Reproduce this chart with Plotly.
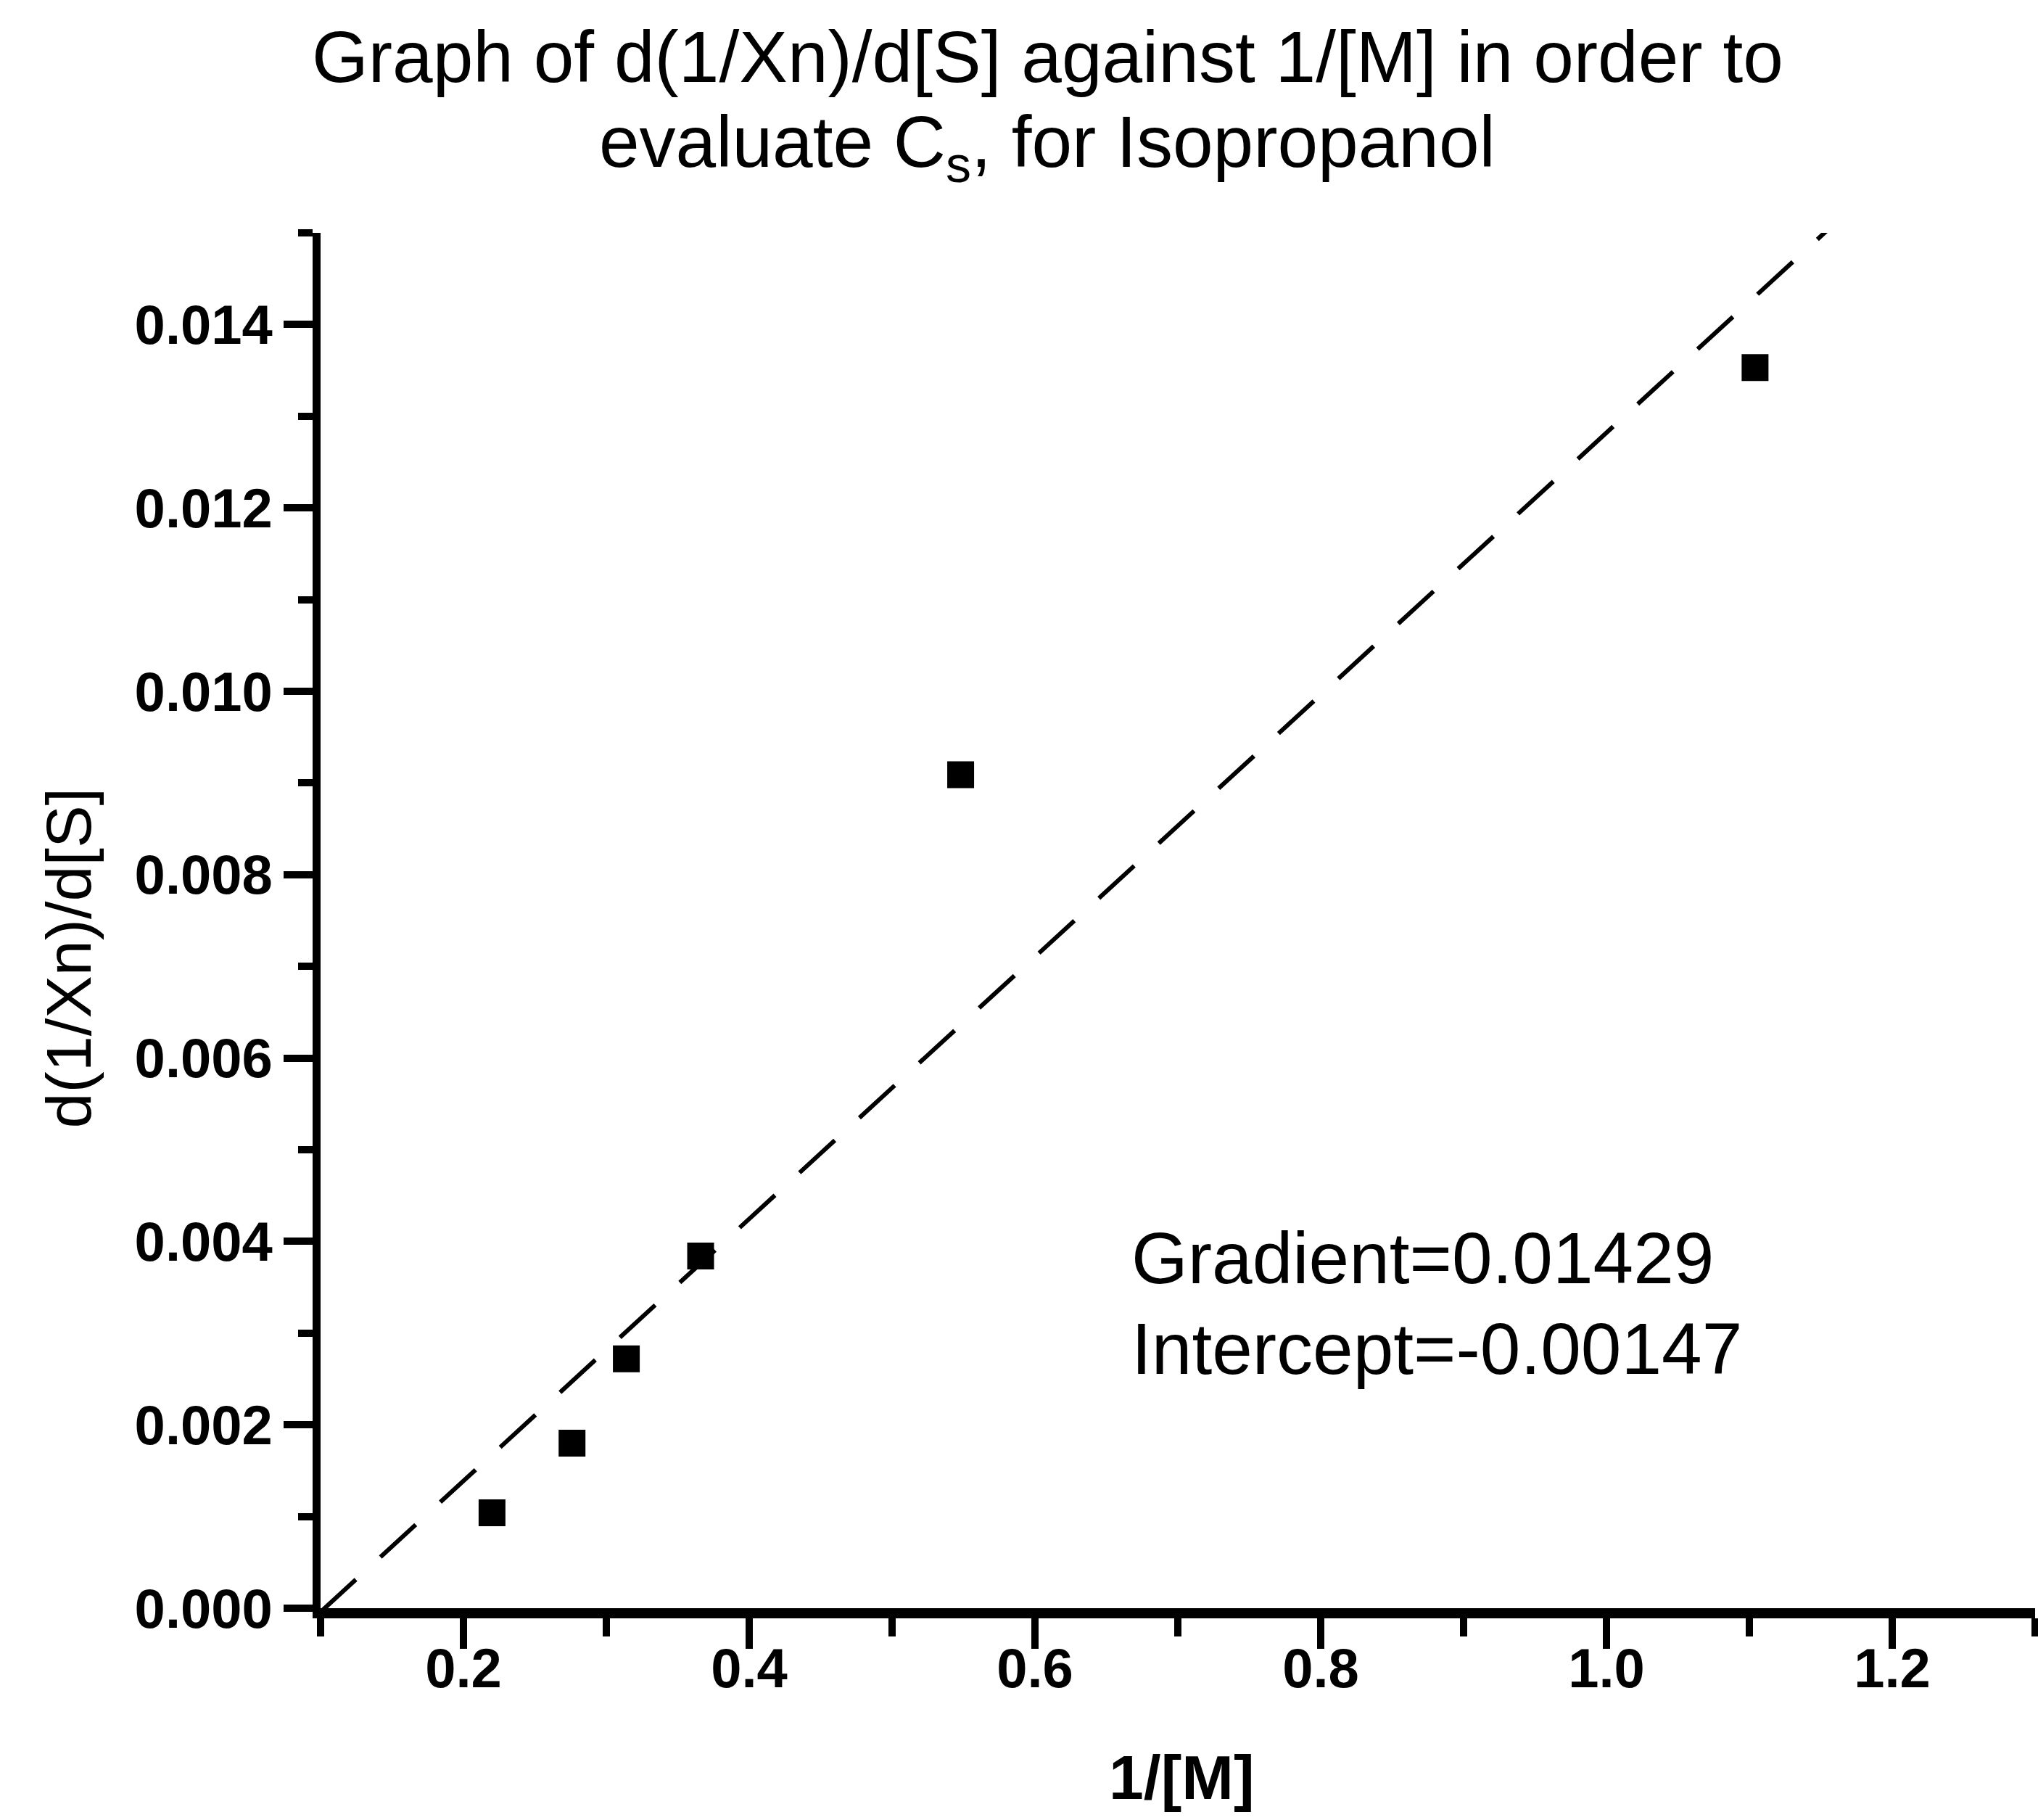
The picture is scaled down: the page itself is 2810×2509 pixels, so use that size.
import plotly.graph_objects as go

# Measured data: 1/[M] against d(1/Xn)/d[S] for isopropanol
inv_M = [0.220, 0.276, 0.314, 0.366, 0.548, 1.104]
d_invXn_dS = [0.00104, 0.00180, 0.00272, 0.00384, 0.00909, 0.01353]

# Linear fit parameters (as quoted on the chart)
gradient = 0.01429
intercept = -0.00147

# Axis ranges and ticks
x_range = [0.1, 1.3]
y_range = [0.0, 0.015]
x_major = [0.2, 0.4, 0.6, 0.8, 1.0, 1.2]
x_minor = [0.1, 0.3, 0.5, 0.7, 0.9, 1.1, 1.3]
y_major = [0.000, 0.002, 0.004, 0.006, 0.008, 0.010, 0.012, 0.014]
y_minor = [0.001, 0.003, 0.005, 0.007, 0.009, 0.011, 0.013, 0.015]

fit_x = list(x_range)
fit_y = [gradient * x + intercept for x in fit_x]

FONT = "Liberation Sans, Arial, Helvetica, sans-serif"

fig = go.Figure()

fig.add_trace(go.Scatter(
    x=fit_x, y=fit_y, mode="lines",
    line=dict(color="black", width=6, dash="66px,46px"),
    hoverinfo="skip", showlegend=False,
))

fig.add_trace(go.Scatter(
    x=inv_M, y=d_invXn_dS, mode="markers",
    marker=dict(symbol="square", size=37, color="black", line=dict(width=0)),
    showlegend=False,
))

tick_font = dict(family=FONT, size=76, color="black", weight="bold")

fig.update_xaxes(
    range=x_range, showgrid=False, zeroline=False,
    showline=True, linecolor="black", linewidth=14,
    ticks="outside", ticklen=42, tickwidth=10, tickcolor="black",
    tickvals=x_major, ticktext=[f"{v:.1f}" for v in x_major],
    tickfont=tick_font, ticklabelstandoff=-38,
    minor=dict(tickvals=x_minor, ticks="outside", ticklen=25,
               tickwidth=10, tickcolor="black", showgrid=False),
)

fig.update_yaxes(
    range=y_range, showgrid=False, zeroline=False,
    showline=True, linecolor="black", linewidth=11,
    ticks="outside", ticklen=40, tickwidth=10, tickcolor="black",
    tickvals=y_major, ticktext=[f"{v:.3f}" for v in y_major],
    tickfont=tick_font,
    minor=dict(tickvals=y_minor, ticks="outside", ticklen=20,
               tickwidth=10, tickcolor="black", showgrid=False),
)

annotations = [
    # two-line chart title
    dict(text="Graph of d(1/Xn)/d[S] against 1/[M] in order to",
         x=0.4239, y=1.1280, font=dict(size=100)),
    dict(text="evaluate C<sub>s</sub>, for Isopropanol",
         x=0.4239, y=1.0625, font=dict(size=100)),
    # axis titles
    dict(text="1/[M]", x=0.5025, y=-0.1229,
         font=dict(size=86, weight="bold")),
    dict(text="d(1/Xn)/d[S]", x=-0.1470, y=0.4731, textangle=-90,
         font=dict(size=88)),
    # fit results
    dict(text="Gradient=0.01429", x=0.4721, y=0.2545, xanchor="left",
         font=dict(size=100)),
    dict(text="Intercept=-0.00147", x=0.4721, y=0.1890, xanchor="left",
         font=dict(size=100)),
]
for a in annotations:
    a.setdefault("xanchor", "center")
    a.setdefault("yanchor", "middle")
    a["xref"] = "paper"
    a["yref"] = "paper"
    a["showarrow"] = False
    a["font"] = dict(family=FONT, color="black", **a["font"])

fig.update_layout(
    width=2810, height=2509,
    margin=dict(l=442, r=4, t=321, b=292, pad=0),
    paper_bgcolor="white", plot_bgcolor="white",
    font=dict(family=FONT, color="black"),
    annotations=annotations,
    showlegend=False,
)

fig.write_html("out.html")
